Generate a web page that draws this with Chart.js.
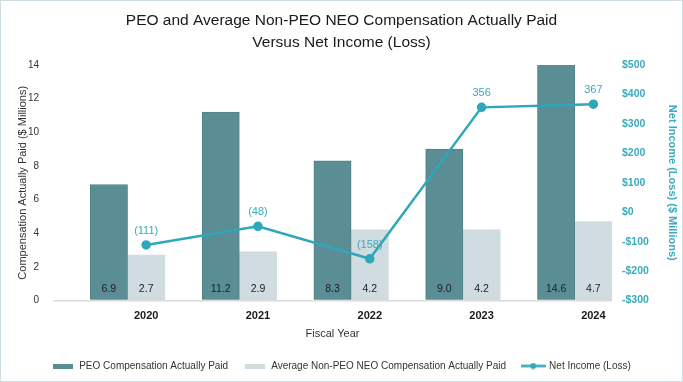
<!DOCTYPE html>
<html>
<head>
    <title>CAP vs Net Income</title>
    <script src="https://cdn.jsdelivr.net/npm/chart.js"></script>
    <style>
        html, body {
            margin: 0;
            padding: 0;
            background: #ffffff;
        }
        .frame {
            width: 683px;
            height: 382px;
            box-sizing: border-box;
            border: 1px solid #cfdce2;
            position: relative;
        }
    </style>
</head>
<body>
    <div class="frame">
        <canvas id="capChart"></canvas>
    </div>
    <script>
        // values
        const years = [2020, 2021, 2022, 2023, 2024];
        const peoCap = [6.9, 11.2, 8.3, 9.0, 14.6];
        const neoAvgCap = [2.7, 2.9, 4.2, 4.2, 4.7];
        const netIncome = [-111, -48, -158, 356, 367];
        const compTicks = { min: 0, max: 14, step: 2 };
        const incomeTicks = { min: -300, max: 500, step: 100 };

        const peoColor = '#5a8d94';
        const neoColor = '#d0dce0';
        const lineColor = '#2ea7ba';
        const tealText = '#3aaabd';

        Chart.defaults.font.family = '"Liberation Sans", Arial, sans-serif';
        Chart.defaults.color = '#333333';

        // small legend swatches: wide flat boxes, and a line with a dot
        function swatch(w, h, color) {
            const c = document.createElement('canvas');
            c.width = w; c.height = h;
            const g = c.getContext('2d');
            g.fillStyle = color;
            g.fillRect(0, 0, w, h);
            return c;
        }
        function lineSwatch(w, h, color) {
            const c = document.createElement('canvas');
            c.width = w; c.height = h;
            const g = c.getContext('2d');
            g.strokeStyle = color;
            g.lineWidth = 2.5;
            g.beginPath();
            g.moveTo(0, h / 2);
            g.lineTo(w, h / 2);
            g.stroke();
            g.fillStyle = color;
            g.beginPath();
            g.arc(w / 2, h / 2, 3, 0, Math.PI * 2);
            g.fill();
            return c;
        }
        const legendSwatches = {
            0: swatch(20, 5, peoColor),
            1: swatch(20, 5, neoColor),
            3: lineSwatch(25, 7, lineColor)
        };

        // numbers inside the bars and above the line points
        const valueLabels = {
            id: 'valueLabels',
            afterDatasetsDraw(chart) {
                const ctx = chart.ctx;
                const area = chart.chartArea;
                ctx.save();
                ctx.textAlign = 'center';
                ctx.textBaseline = 'middle';
                ctx.font = '10.5px "Liberation Sans", Arial, sans-serif';
                ctx.fillStyle = '#222222';
                [peoCap, neoAvgCap].forEach((vals, di) => {
                    chart.getDatasetMeta(di).data.forEach((bar, i) => {
                        ctx.fillText(vals[i].toFixed(1), bar.x, area.bottom - 11);
                    });
                });
                ctx.font = '11px "Liberation Sans", Arial, sans-serif';
                ctx.fillStyle = tealText;
                chart.getDatasetMeta(3).data.forEach((pt, i) => {
                    const v = netIncome[i];
                    const txt = v < 0 ? '(' + (-v) + ')' : String(v);
                    ctx.fillText(txt, pt.x, pt.y - 14);
                });
                ctx.restore();
            }
        };

        const ctx = document.getElementById('capChart').getContext('2d');
        const capChart = new Chart(ctx, {
            type: 'bar',
            data: {
                datasets: [
                    {
                        label: 'PEO Compensation Actually Paid',
                        data: years.map((y, i) => ({ x: y, y: peoCap[i] })),
                        backgroundColor: peoColor,
                        borderColor: '#4f8289',
                        borderWidth: 1
                    },
                    {
                        label: 'Average Non-PEO NEO Compensation Actually Paid',
                        data: years.map((y, i) => ({ x: y, y: neoAvgCap[i] })),
                        backgroundColor: neoColor,
                        borderWidth: 0
                    },
                    {
                        // empty slot after each pair, so the year sits under the second bar
                        label: '',
                        data: years.map(y => ({ x: y, y: 0 })),
                        backgroundColor: 'rgba(0,0,0,0)',
                        borderWidth: 0
                    },
                    {
                        type: 'line',
                        label: 'Net Income (Loss)',
                        data: years.map((y, i) => ({ x: y, y: netIncome[i] })),
                        yAxisID: 'y1',
                        borderColor: lineColor,
                        backgroundColor: lineColor,
                        borderWidth: 2.5,
                        pointRadius: 3.5,
                        pointHoverRadius: 3.5,
                        fill: false,
                        order: -1
                    }
                ]
            },
            options: {
                responsive: true,
                maintainAspectRatio: false,
                animation: false,
                datasets: {
                    bar: {
                        categoryPercentage: 1.0,
                        barPercentage: 1.0
                    }
                },
                layout: {
                    padding: { top: 0, bottom: 0, left: 0, right: 0 }
                },
                plugins: {
                    title: {
                        display: true,
                        text: ['PEO and Average Non-PEO NEO Compensation Actually Paid', 'Versus Net Income (Loss)'],
                        color: '#1a1a1a',
                        font: { size: 15.5, weight: 'normal', lineHeight: 1.45 },
                        padding: { top: 8, bottom: 11 }
                    },
                    legend: {
                        position: 'bottom',
                        labels: {
                            usePointStyle: true,
                            pointStyleWidth: 22,
                            boxHeight: 10,
                            padding: 16,
                            color: '#333333',
                            font: { size: 10 },
                            generateLabels: chart => {
                                const items = Chart.defaults.plugins.legend.labels.generateLabels(chart);
                                items.forEach(it => { it.pointStyle = legendSwatches[it.datasetIndex]; });
                                return items
                                    .filter(it => it.datasetIndex !== 2)
                                    .sort((a, b) => a.datasetIndex - b.datasetIndex);
                            }
                        }
                    },
                    tooltip: { enabled: false }
                },
                scales: {
                    x: {
                        type: 'linear',
                        position: 'bottom',
                        offset: false,
                        min: years[0] - 5 / 6,
                        max: years[years.length - 1] + 1 / 6,
                        afterBuildTicks: scale => {
                            scale.ticks = years.map(v => ({ value: v }));
                        },
                        grid: { display: false, drawTicks: false },
                        border: { display: false },
                        ticks: {
                            padding: 9,
                            maxRotation: 0,
                            color: '#1a1a1a',
                            font: { size: 11, weight: 'bold' },
                            callback: v => String(v)
                        },
                        title: {
                            display: true,
                            text: 'Fiscal Year',
                            color: '#333333',
                            font: { size: 11 },
                            padding: { top: -4, bottom: 4 }
                        }
                    },
                    y: {
                        position: 'left',
                        min: compTicks.min,
                        max: compTicks.max,
                        afterFit: scale => { scale.width = 52; },
                        grid: {
                            drawTicks: false,
                            lineWidth: 1.5,
                            color: c => c.tick.value === 0 ? '#dcdcdc' : 'rgba(0,0,0,0)'
                        },
                        border: { display: false },
                        ticks: {
                            stepSize: compTicks.step,
                            padding: 14,
                            color: '#333333',
                            font: { size: 10 }
                        },
                        title: {
                            display: true,
                            text: 'Compensation Actually Paid ($ Millions)',
                            color: '#333333',
                            font: { size: 11 },
                            padding: { top: 15, bottom: 0 }
                        }
                    },
                    y1: {
                        position: 'right',
                        min: incomeTicks.min,
                        max: incomeTicks.max,
                        afterFit: scale => { scale.width = 70; },
                        grid: { display: false, drawTicks: false },
                        border: { display: false },
                        ticks: {
                            stepSize: incomeTicks.step,
                            padding: 10,
                            color: tealText,
                            font: { size: 10.5, weight: 'bold' },
                            callback: v => v < 0 ? '-$' + (-v) : '$' + v
                        },
                        title: {
                            display: true,
                            text: 'Net Income (Loss) ($ Millions)',
                            color: tealText,
                            font: { size: 11, weight: 'bold' },
                            padding: { top: 3, bottom: 0 }
                        }
                    }
                }
            },
            plugins: [valueLabels]
        });
    </script>
</body>
</html>
